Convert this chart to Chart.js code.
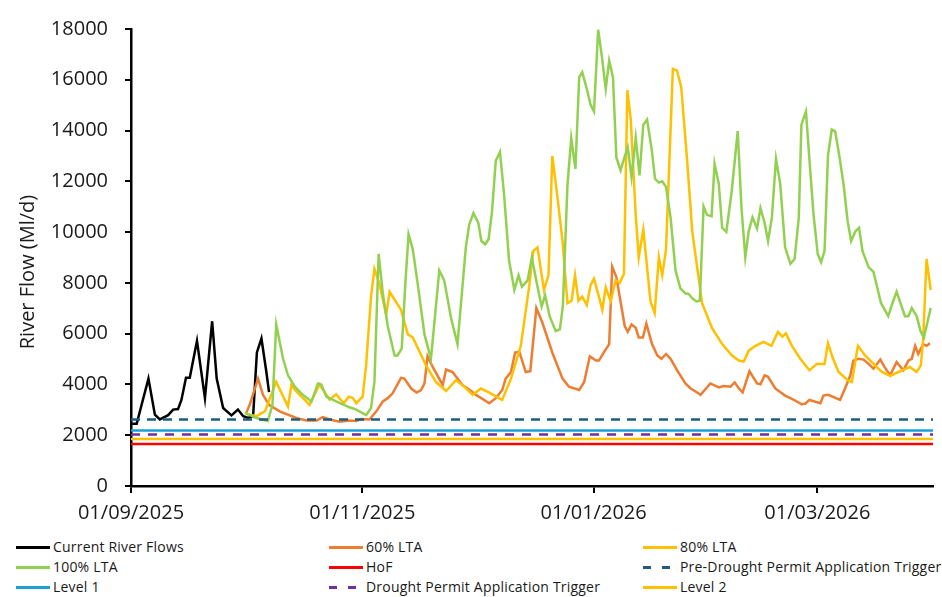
<!DOCTYPE html>
<html lang="en">
<head>
    <meta charset="UTF-8">
    <title>River Flow</title>
    <style>
        body {
            margin: 0;
            padding: 0;
            background: #ffffff;
            font-family: "Open Sans", Arial, sans-serif;
        }
        .wrap {
            position: relative;
            width: 942px;
            height: 597px;
        }
        #flowChart {
            position: absolute;
            left: 0;
            top: 0;
        }
        .legend-item {
            position: absolute;
            height: 20px;
            line-height: 20px;
            font-size: 14px;
            letter-spacing: 0.2px;
            color: #1a1a1a;
            white-space: nowrap;
        }
        .swatch {
            display: inline-block;
            width: 34px;
            height: 3px;
            vertical-align: middle;
            margin-right: 3px;
            position: relative;
            top: -1px;
        }
    </style>
</head>
<body>
<div class="wrap">
    <canvas id="flowChart" width="942" height="535"></canvas>
    <div id="legend"></div>
</div>
<script src="https://cdn.jsdelivr.net/npm/chart.js"></script>
<script>
    // x values are days counted from 01/09/2025
    const tickDays = [0, 61, 122, 181];
    const tickLabels = ['01/09/2025', '01/11/2025', '01/01/2026', '01/03/2026'];

    const currentDays = [0.3, 1.5, 2.8, 4.6, 6.3, 7.6, 9.8, 11.1, 12.4, 13.3, 14.5, 15.5, 17.4, 19.5, 21.4, 22.6, 24.3, 26.5, 28.2, 29.6, 30.9, 32.2, 33.2, 34.4, 35.7, 36.4];
    const currentFlow = [2450, 2450, 3200, 4230, 2810, 2620, 2790, 3010, 3030, 3390, 4260, 4260, 5720, 3460, 6490, 4230, 3070, 2780, 3010, 2750, 2680, 2750, 5260, 5810, 4490, 3700];

    const lta60Days = [30.4, 31.3, 33.5, 34.8, 36.4, 39.2, 43.6, 46.2, 48.9, 50.6, 52.4, 55, 57.6, 59.4, 60.7, 62.9, 64.7, 66.4, 67.7, 69, 71.2, 72.1, 73.9, 75.3, 76.5, 77.4, 78.2, 79.6, 82.2, 83.1, 84.8, 87.4, 88.8, 91, 94.5, 96.2, 97.9, 98.8, 100.2, 101.3, 102.4, 104.1, 105.3, 106.9, 108.5, 111.1, 113.8, 115.5, 118.2, 119.5, 121, 122.6, 123.4, 124.7, 126.1, 126.9, 128, 130.2, 131, 132, 133.1, 133.9, 135, 135.9, 137.4, 138.8, 139.9, 141.1, 142.3, 144, 146.2, 147.6, 148.9, 150.2, 152.8, 155, 156.3, 158.1, 159.2, 160.3, 161.3, 163.1, 165.1, 166, 167.1, 168, 169.9, 172.5, 174.3, 176.9, 177.8, 178.9, 181.8, 182.6, 183.9, 187, 188.3, 189.7, 190.5, 191.8, 193.2, 194.5, 195.8, 197.6, 198.7, 200.2, 201.9, 203.7, 205, 205.9, 206.8, 207.6, 208.9, 209.8, 210.7];
    const lta60Flow = [2880, 3200, 4230, 3590, 3200, 2940, 2680, 2580, 2580, 2710, 2620, 2530, 2580, 2560, 2640, 2620, 2940, 3330, 3460, 3650, 4260, 4230, 3840, 3680, 3780, 4040, 5110, 4680, 3980, 4590, 4490, 3980, 3840, 3590, 3260, 3460, 3780, 4230, 4490, 5260, 5290, 4490, 4520, 7010, 6430, 5260, 4230, 3910, 3780, 4100, 5110, 4940, 4940, 5260, 5590, 8640, 8230, 6300, 6070, 6360, 6230, 5850, 5850, 6400, 5590, 5140, 5010, 5200, 5010, 4560, 4040, 3840, 3720, 3590, 4040, 3880, 3940, 3910, 4080, 3840, 3690, 4520, 4040, 4010, 4360, 4300, 3840, 3560, 3430, 3220, 3240, 3390, 3260, 3560, 3590, 3390, 3840, 4360, 4940, 5010, 4980, 4810, 4620, 4980, 4690, 4360, 4880, 4560, 4940, 5010, 5520, 5200, 5590, 5520, 5620];

    const lta80Days = [30.4, 33.1, 35.3, 38.3, 41.4, 42.3, 43.6, 47.1, 49.7, 52.4, 54.1, 56.1, 57.4, 58.5, 59.4, 61.1, 62, 63.3, 64.2, 65.5, 67.3, 68.2, 71.2, 73, 74.3, 77.8, 80.4, 83.1, 85.7, 87.9, 90.1, 92.3, 94.5, 97.9, 100.2, 102.8, 105, 106.1, 107.2, 108.9, 110.1, 111.1, 112.4, 113.8, 115.1, 116.2, 117.1, 118, 119, 120.2, 121.2, 122.1, 123.4, 124.3, 125.2, 126.5, 127.8, 128.9, 130, 130.9, 131.8, 133.1, 133.9, 135.1, 137, 138.1, 139.2, 140.1, 141.1, 142.9, 144, 145.1, 146.7, 148, 149.3, 150.6, 153.2, 155.9, 158.5, 160.3, 161.6, 162.9, 164.7, 166.8, 168.9, 170.6, 171.8, 172.7, 174.3, 176.5, 178.9, 180.9, 182.9, 183.8, 185, 186.6, 189, 190.1, 191.7, 193.6, 196.2, 198, 200.2, 202.4, 205.4, 207.2, 208.3, 208.9, 209.8, 210.9];
    const lta80Flow = [2840, 2750, 2940, 4100, 3130, 3980, 3720, 3200, 4000, 3400, 3610, 3260, 3520, 3460, 3260, 3520, 4750, 7460, 8550, 7970, 6750, 7650, 6940, 5970, 5850, 4750, 4100, 3740, 4170, 3910, 3590, 3840, 3680, 3390, 4230, 5520, 7850, 9260, 9400, 7720, 8300, 13000, 11460, 9650, 7200, 7300, 8300, 7300, 7460, 7130, 7910, 8170, 7460, 6940, 7820, 7270, 8100, 8000, 8360, 15590, 14430, 10680, 9010, 10100, 7270, 6810, 9010, 8300, 9330, 16430, 16360, 15720, 12750, 10040, 8620, 7200, 6230, 5590, 5140, 4940, 4900, 5330, 5520, 5680, 5520, 6070, 5880, 6010, 5520, 5010, 4560, 4810, 4810, 5620, 5070, 4490, 4170, 4100, 5520, 5140, 4750, 4490, 4340, 4490, 4690, 4490, 4750, 5780, 8940, 7720];

    const lta100Days = [30, 33.1, 36.1, 37.3, 38.3, 40.1, 41.4, 43.2, 45.3, 47.6, 49.3, 50.2, 51.5, 54.1, 57.6, 59.4, 62, 63.3, 64.2, 65.3, 66.4, 67.7, 69.5, 70.3, 71.4, 72.4, 73.2, 74.3, 75.6, 77.4, 79.1, 81.3, 82.6, 84.4, 86.1, 88.3, 89.2, 90.3, 91.6, 92.4, 93.4, 94.3, 95.2, 96.2, 97.3, 98.4, 99.7, 101.1, 102.2, 103.1, 104.6, 105.7, 107.2, 108.3, 109.2, 110.4, 112, 113.1, 113.9, 115.1, 116.1, 117.2, 118.2, 119, 120.3, 121.2, 122.1, 123.2, 124.1, 125.2, 126.1, 127.1, 128, 129.1, 130, 131, 132, 133.1, 134.1, 135.1, 136.1, 137.3, 138.2, 139.2, 140.1, 141.1, 142.3, 143.6, 144.9, 146.2, 147.1, 148, 149.1, 150, 151, 151.9, 153.1, 153.9, 155, 155.9, 157, 158.4, 160, 161, 162, 162.9, 163.9, 165.1, 166, 167.1, 168, 169, 170.1, 171.2, 172.5, 173.9, 175, 176.1, 176.8, 178, 178.9, 180, 181.1, 182, 182.9, 183.8, 184.8, 185.7, 186.8, 187.9, 189, 189.9, 191.1, 192, 192.9, 194.5, 195.8, 197.8, 199.7, 200.8, 201.9, 204.1, 205, 205.9, 207.2, 208.2, 209.1, 209.8, 210.9];
    const lta100Flow = [2880, 2680, 2560, 3200, 6360, 5010, 4360, 3910, 3590, 3330, 4040, 4000, 3520, 3330, 3100, 3010, 2790, 3070, 4100, 9140, 7590, 6300, 5140, 5140, 5420, 8100, 9910, 9330, 7970, 5970, 5010, 8490, 8100, 6620, 5590, 9400, 10300, 10750, 10360, 9650, 9520, 9720, 10810, 12810, 13160, 11460, 8880, 7720, 8300, 7850, 8100, 9000, 7850, 7070, 7520, 6690, 6100, 6170, 7100, 11850, 13700, 12490, 16100, 16300, 15590, 15010, 14750, 17970, 17000, 15650, 16750, 16100, 12940, 12430, 12880, 13330, 12170, 13720, 12230, 14230, 14430, 13270, 12100, 11950, 12000, 11780, 10560, 8490, 7780, 7590, 7560, 7390, 7270, 7300, 11010, 10680, 10620, 12690, 11910, 10170, 10010, 11590, 13980, 10940, 9010, 10040, 10580, 10140, 10940, 10360, 9650, 10560, 12880, 11910, 9400, 8750, 8940, 10560, 14230, 14750, 12880, 10680, 9140, 8810, 9260, 13010, 14040, 13970, 13000, 11900, 10420, 9650, 10040, 10170, 9260, 8620, 8430, 7200, 6690, 7200, 7650, 6690, 6690, 7010, 6690, 6100, 5850, 6300, 7010];

    // flat trigger levels, drawn across the whole period
    const levelDays = [0, 211.5];
    const hofFlow = 1650;
    const preDroughtFlow = 2620;
    const level1Flow = 2190;
    const droughtPermitFlow = 2030;
    const level2Flow = 1850;

    function toPoints(days, flows) {
        return days.map((d, i) => ({ x: d, y: flows[i] }));
    }

    function flatLine(value) {
        return levelDays.map(d => ({ x: d, y: value }));
    }

    const series = [
        { label: 'Current River Flows', data: toPoints(currentDays, currentFlow), color: '#000000' },
        { label: '60% LTA', data: toPoints(lta60Days, lta60Flow), color: '#ed7d31' },
        { label: '80% LTA', data: toPoints(lta80Days, lta80Flow), color: '#ffc000' },
        { label: '100% LTA', data: toPoints(lta100Days, lta100Flow), color: '#92d050' },
        { label: 'HoF', data: flatLine(hofFlow), color: '#ff0000' },
        { label: 'Pre-Drought Permit Application Trigger', data: flatLine(preDroughtFlow), color: '#1f5c80', dash: [9, 7] },
        { label: 'Level 1', data: flatLine(level1Flow), color: '#1ca0d8' },
        { label: 'Drought Permit Application Trigger', data: flatLine(droughtPermitFlow), color: '#7030a0', dash: [9, 8] },
        { label: 'Level 2', data: flatLine(level2Flow), color: '#ffc000' }
    ];

    const datasets = series.map((s, i) => ({
        label: s.label,
        data: s.data,
        borderColor: s.color,
        backgroundColor: s.color,
        borderWidth: 2.5,
        borderDash: s.dash || [],
        pointRadius: 0,
        tension: 0,
        fill: false,
        order: series.length - i
    }));

    const tickFont = { family: '"Open Sans", Arial, sans-serif', size: 20 };
    const textColor = '#1a1a1a';

    // y axis title, placed like the original
    const yTitle = {
        id: 'yTitle',
        afterDraw(chart) {
            const ctx = chart.ctx;
            ctx.save();
            ctx.translate(28, 272);
            ctx.rotate(-Math.PI / 2);
            ctx.font = '20px "Open Sans", Arial, sans-serif';
            ctx.fillStyle = textColor;
            ctx.textAlign = 'center';
            ctx.textBaseline = 'middle';
            ctx.fillText('River Flow (Ml/d)', 0, 0);
            ctx.restore();
        }
    };

    new Chart(document.getElementById('flowChart'), {
        type: 'line',
        data: { datasets },
        options: {
            responsive: false,
            animation: false,
            layout: { padding: { top: 21, right: 9, left: 0, bottom: 0 } },
            plugins: {
                legend: { display: false },
                tooltip: { enabled: false }
            },
            scales: {
                x: {
                    type: 'linear',
                    min: 0,
                    max: 211.5,
                    afterBuildTicks: scale => {
                        scale.ticks = tickDays.map(v => ({ value: v }));
                    },
                    afterFit: scale => { scale.height = 49; },
                    ticks: {
                        autoSkip: false,
                        maxRotation: 0,
                        padding: 8,
                        color: textColor,
                        font: tickFont,
                        callback: value => tickLabels[tickDays.indexOf(value)]
                    },
                    grid: { drawOnChartArea: false, tickLength: 7, color: '#000', lineWidth: 2 },
                    border: { display: true, color: '#000', width: 2.5 }
                },
                y: {
                    min: 0,
                    max: 18000,
                    afterFit: scale => { scale.width = 131; },
                    ticks: {
                        stepSize: 2000,
                        padding: 17,
                        color: textColor,
                        font: tickFont,
                        callback: value => String(value)
                    },
                    grid: { drawOnChartArea: false, tickLength: 6, color: '#000', lineWidth: 2 },
                    border: { display: true, color: '#000', width: 2.5 }
                }
            }
        },
        plugins: [yTitle]
    });

    // legend in three columns like the original
    const legendCols = [16, 329, 643];
    const legendRows = [537, 557, 577];
    const legend = document.getElementById('legend');
    series.forEach((s, i) => {
        const item = document.createElement('div');
        item.className = 'legend-item';
        item.style.left = legendCols[i % 3] + 'px';
        item.style.top = legendRows[Math.floor(i / 3)] + 'px';
        const sw = document.createElement('span');
        sw.className = 'swatch';
        if (s.dash) {
            sw.style.background = 'repeating-linear-gradient(to right, ' + s.color + ' 0 8px, transparent 8px 19px)';
        } else {
            sw.style.background = s.color;
        }
        item.appendChild(sw);
        item.appendChild(document.createTextNode(s.label));
        legend.appendChild(item);
    });
</script>
</body>
</html>
